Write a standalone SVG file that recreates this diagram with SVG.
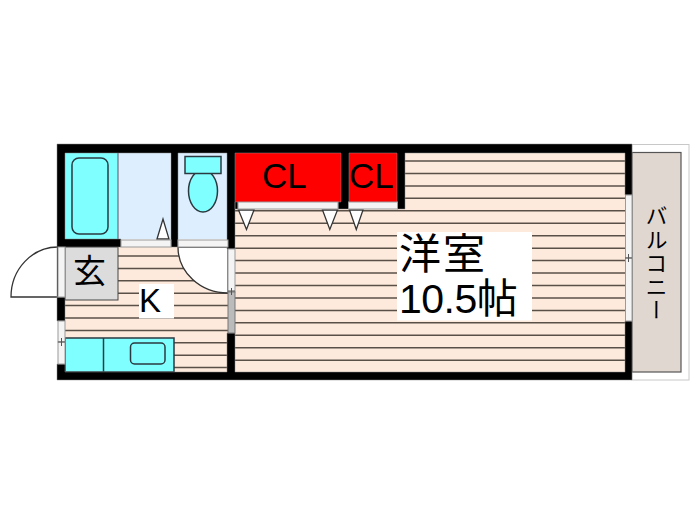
<svg xmlns="http://www.w3.org/2000/svg" width="700" height="525" viewBox="0 0 700 525">
<style>
.o{stroke:#2b3a40;stroke-width:1.5}
.w{fill:#000}
.s{fill:#f4f4f4;stroke:#9a9a9a;stroke-width:1}
.hl{fill:none;stroke:#5a5048;stroke-width:1.5}
.cy{fill:#7fffff}
.t{fill:#fff;stroke:#333;stroke-width:1.3}
text{fill:#000;font-family:"Liberation Sans","Noto Sans CJK JP",sans-serif}
.j{font-family:"Noto Sans CJK JP","Liberation Sans",sans-serif}
</style>
<rect width="700" height="525" fill="#fff"/>
<g id="balcony">
<rect x="632" y="144.500" width="57" height="235.500" fill="#fff" stroke="#c8c8c8"/>
<rect x="632" y="152.500" width="49" height="219.500" fill="#e0d8d0" stroke="#555" stroke-width="1.200"/>
<text class="j" x="656.500" y="205" font-size="22" writing-mode="vertical-rl" letter-spacing="1.500">バルコニー</text>
</g>
<g id="room">
<rect x="235" y="153" width="390" height="219" fill="#fdeadc"/>
<path class="hl" d="M235 161H625M235 173.450H625M235 185.900H625M235 198.350H625M235 210.800H625M235 223.250H625M235 235.700H625M235 248.150H625M235 260.600H625M235 273.050H625M235 285.500H625M235 297.950H625M235 310.400H625M235 322.850H625M235 335.300H625M235 347.750H625M235 360.200H625"/>
<rect x="397" y="232" width="135" height="88.500" fill="#fff"/>
<text class="j" x="399" y="269" font-size="42" letter-spacing="2">洋室</text>
<text x="399" y="313" font-size="41" letter-spacing="-0.500">10.5<tspan class="j">帖</tspan></text>
</g>
<g id="kitchen">
<rect x="65" y="247" width="163" height="125" fill="#fdeadc"/>
<path class="hl" d="M65 256H228M65 268.400H228M65 280.800H228M65 293.200H228M65 305.600H228M65 318H228M65 330.400H228M65 342.800H228M65 355.200H228M65 367.600H228"/>
<path d="M178 247H228V293A50 46 0 0 1 178 247Z" fill="#fff" stroke="#333" stroke-width="1.300"/>
<rect x="139" y="284" width="35" height="34.500" fill="#fff"/>
<text x="139" y="312" font-size="33">K</text>
<rect class="cy o" x="65" y="338" width="109" height="34"/>
<path class="o" d="M103.500 338V372" fill="none"/>
<rect class="o" x="130.500" y="343" width="34.500" height="21" rx="4" fill="none"/>
</g>
<g id="entrance">
<rect x="65" y="247" width="53" height="53" fill="#dcdcdc" stroke="#444" stroke-width="1"/>
<text class="j" x="73" y="283" font-size="33">玄</text>
<path d="M58 247A47 50 0 0 0 11 297H58" fill="#fff" stroke="#333" stroke-width="1.300"/>
</g>
<g id="bath">
<rect x="65" y="153" width="53" height="86" class="cy"/>
<rect x="72" y="158" width="36" height="76" rx="7" fill="none" class="o"/>
<rect x="118" y="153" width="52.500" height="86" fill="#ddeeff"/>
<path d="M118 153V239" stroke="#556" stroke-width="1" fill="none"/>
<path d="M157 239L163 219L169 239Z" class="t"/>
</g>
<g id="toilet">
<rect x="178" y="153" width="49" height="86" fill="#ddeeff"/>
<ellipse cx="203" cy="191" rx="14.500" ry="21" class="cy o"/>
<rect x="185" y="156.500" width="36" height="17" class="cy o"/>
</g>
<g id="closets">
<rect x="235" y="153" width="106" height="49" fill="#f00"/>
<rect x="349" y="153" width="48.500" height="49" fill="#f00"/>
<text x="262" y="188" font-size="35">CL</text>
<text x="349" y="188" font-size="35">CL</text>
<path class="t" d="M238.500 210H254L246.500 229.500Z"/>
<path class="t" d="M322.500 210H337.500L329.800 229.500Z"/>
<path class="t" d="M349.500 210H363L356.300 229.500Z"/>
</g>
<g id="walls">
<path class="w" stroke="#888" stroke-width="0.500" d="M57 144H632V195H625V153H405V209H397V153H349V209H338V202H341V153H235V209H238V202H235V249H227V153H178V247H171V153H121V153H65V239H121V247H65V297H57ZM57 297H65V321H57ZM57 364H65V372H227V333H235V372H625V321H632V380H57Z"/>
<rect class="s" x="238" y="202" width="100" height="7"/>
<rect class="s" x="348.500" y="202" width="49" height="7"/>
<rect class="s" x="121" y="240" width="50" height="7"/>
<rect class="s" x="178" y="240" width="50" height="7"/>
<rect class="s" x="58" y="247" width="7" height="50"/>
<rect class="s" x="58" y="321" width="7" height="21"/>
<rect class="s" x="58" y="342" width="7" height="22"/>
<rect class="s" x="228" y="249" width="7" height="43"/>
<rect x="228" y="292" width="7" height="41" fill="#bbb" stroke="#777"/>
<rect class="s" x="625.500" y="195" width="6.500" height="63"/>
<rect class="s" x="625.500" y="258" width="6.500" height="63"/>
<path d="M228 291H235M231.500 288V295M625 258H632M628.500 254V262M58 342H65M61.500 338V346" stroke="#555" fill="none"/>
</g>
</svg>
